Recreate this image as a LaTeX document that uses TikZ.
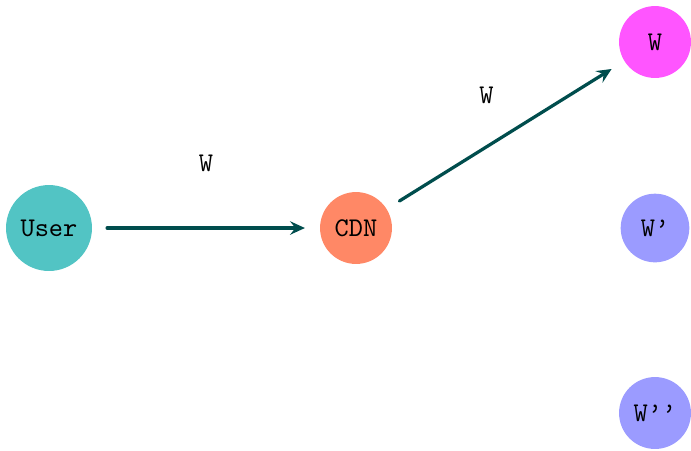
\documentclass[tikz,border=0pt]{standalone}
\usetikzlibrary{arrows.meta}
\definecolor{usercol}{HTML}{52C4C4}
\definecolor{cdncol}{HTML}{FF8866}
\definecolor{wcol}{HTML}{FF55FF}
\definecolor{copycol}{HTML}{9B9BFF}
\definecolor{linkcol}{HTML}{004D4D}
\begin{document}
\begin{tikzpicture}[x=0.37pt,y=-0.37pt,font=\fontencoding{OT1}\fontfamily{cmtt}\selectfont,line join = round, line cap = round,
	>= {Stealth[length=5.5pt,width=5pt,inset=2pt]},
	site/.style={circle,inner sep=0pt,minimum size=26.6pt},
	link/.style={->,linkcol,line width=1.2pt,shorten >=5.4pt,shorten <=5.4pt}]
	\useasboundingbox (0,0) rectangle (691,450);
	\node[site,fill=usercol,minimum size=31.8pt] (user) at (49,228) {User};
	\node[site,fill=cdncol] (cdn) at (356,228) {CDN};
	\foreach \n/\y/\t/\c/\s in {w/42/W/wcol/26.6pt,wp/228/W'/copycol/25.4pt,wpp/413/W''/copycol/26.6pt}
		\node[site,fill=\c,minimum size=\s] (\n) at (655,\y) {\t};
	\draw[link] (user)--(cdn) node[midway,black,shift={(0,-65)}] (l1) {W};
	\draw[link] (cdn)--(w) node[midway,black,shift={(-19,-40)}] (l2) {W};
\end{tikzpicture}
\end{document}
